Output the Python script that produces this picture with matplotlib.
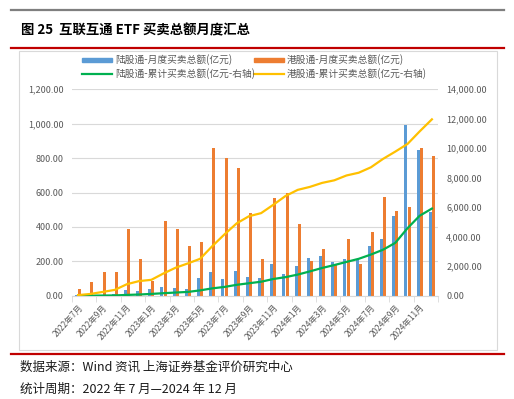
import matplotlib
matplotlib.use("Agg")
import matplotlib.pyplot as plt
import numpy as np
from matplotlib.lines import Line2D
from matplotlib.patches import Rectangle

plt.rcParams['font.family'] = ['Noto Sans CJK SC', 'DejaVu Sans']

months = ["2022年7月", "2022年8月", "2022年9月", "2022年10月", "2022年11月", "2022年12月",
          "2023年1月", "2023年2月", "2023年3月", "2023年4月", "2023年5月", "2023年6月",
          "2023年7月", "2023年8月", "2023年9月", "2023年10月", "2023年11月", "2023年12月",
          "2024年1月", "2024年2月", "2024年3月", "2024年4月", "2024年5月", "2024年6月",
          "2024年7月", "2024年8月", "2024年9月", "2024年10月", "2024年11月", "2024年12月"]

north_monthly = [2, 3, 6, 8, 34, 27, 41, 49, 45, 41, 105, 137, 97, 143, 107, 103, 185, 125,
                 174, 217, 232, 197, 215, 209, 289, 329, 465, 992, 847, 486]
south_monthly = [40, 78, 136, 139, 387, 212, 84, 434, 390, 291, 312, 858, 801, 745, 482, 211,
                 567, 595, 416, 203, 270, 176, 328, 186, 368, 573, 492, 517, 856, 815]
north_cum = [2, 5, 11, 19, 53, 80, 121, 170, 215, 256, 361, 498, 595, 738, 845, 948, 1133,
             1258, 1432, 1649, 1881, 2078, 2293, 2502, 2791, 3120, 3585, 4577, 5424, 5910]
south_cum = [40, 118, 254, 393, 780, 992, 1076, 1510, 1900, 2191, 2503, 3361, 4162, 4907,
             5389, 5600, 6167, 6762, 7178, 7381, 7651, 7827, 8155, 8341, 8709, 9282, 9774,
             10291, 11147, 11962]

legend_labels = ["陆股通-月度买卖总额(亿元)", "港股通-月度买卖总额(亿元)",
                 "陆股通-累计买卖总额(亿元-右轴)", "港股通-累计买卖总额(亿元-右轴)"]
left_ticks = [0, 200, 400, 600, 800, 1000, 1200]
right_ticks = [0, 2000, 4000, 6000, 8000, 10000, 12000, 14000]

C_BLUE, C_ORANGE, C_GREEN, C_YELLOW = "#5b9bd5", "#ed7d31", "#00b050", "#ffc000"

W, H = 514, 399
fig = plt.figure(figsize=(W / 100, H / 100), dpi=100)

def fx(px):
    return px / W

def fy(py):
    return 1 - py / H

# decorative lines
fig.add_artist(Line2D([fx(11), fx(504)], [fy(10), fy(10)], color="#7f7f7f", lw=1.6))
fig.add_artist(Line2D([fx(11), fx(504)], [fy(47.7), fy(47.7)], color="#c00000", lw=1.6))
fig.add_artist(Line2D([fx(11), fx(504)], [fy(353.7), fy(353.7)], color="#c00000", lw=1.6))
fig.add_artist(Rectangle((fx(19), fy(350)), fx(497) - fx(19), fy(51) - fy(350),
                         fill=False, edgecolor="#d9d9d9", lw=0.8))

fig.text(fx(21), fy(30), "图 25  互联互通 ETF 买卖总额月度汇总", fontsize=9.6,
         fontweight="bold", va="center", ha="left", color="#000000")
fig.text(fx(20), fy(367), "数据来源：Wind 资讯 上海证券基金评价研究中心", fontsize=9,
         va="center", ha="left", color="#1a1a1a")
fig.text(fx(20), fy(389), "统计周期：2022 年 7 月—2024 年 12 月", fontsize=9,
         va="center", ha="left", color="#1a1a1a")

ax = fig.add_axes([fx(72), fy(295.7), fx(438) - fx(72), fy(89.3) - fy(295.7)])
x = np.arange(len(months))
bw = 0.24
ax.bar(x - 0.135, north_monthly, width=bw, color=C_BLUE, zorder=2)
ax.bar(x + 0.135, south_monthly, width=bw, color=C_ORANGE, zorder=2)
ax.set_xlim(-0.5, len(months) - 0.5)
ax.set_ylim(0, 1200)
ax.set_yticks(left_ticks)
ax.set_yticklabels([f"{v:,.2f}" for v in left_ticks])
ax.grid(axis="y", color="#d9d9d9", lw=0.8, zorder=0)
ax.set_axisbelow(True)
for s in ["top", "right", "left"]:
    ax.spines[s].set_visible(False)
ax.spines["bottom"].set_color("#d9d9d9")
ax.tick_params(axis="y", length=0, labelsize=6.5, labelcolor="#595959", pad=6)
ax.set_xticks(x[::2])
ax.set_xticklabels(months[::2], rotation=48, ha="right", rotation_mode="anchor",
                   fontsize=6, color="#595959")
ax.set_xticks(np.arange(-0.5, len(months), 2), minor=True)
ax.tick_params(axis="x", which="major", length=0, pad=5)
ax.tick_params(axis="x", which="minor", length=4, color="#d9d9d9")

ax2 = ax.twinx()
ax2.plot(x, north_cum, color=C_GREEN, lw=1.6, zorder=3)
ax2.plot(x, south_cum, color=C_YELLOW, lw=1.6, zorder=3)
ax2.set_ylim(0, 14000)
ax2.set_yticks(right_ticks)
ax2.set_yticklabels([f"{v:,.2f}" for v in right_ticks])
for s in ["top", "right", "left", "bottom"]:
    ax2.spines[s].set_visible(False)
ax2.tick_params(axis="y", length=0, labelsize=6.5, labelcolor="#595959", pad=6)

# legend (two rows x two columns)
items = [("patch", C_BLUE, 82, 60, legend_labels[0]),
         ("patch", C_ORANGE, 254, 60, legend_labels[1]),
         ("line", C_GREEN, 82, 74, legend_labels[2]),
         ("line", C_YELLOW, 254, 74, legend_labels[3])]
for kind, col, px, py, lab in items:
    if kind == "patch":
        fig.add_artist(Rectangle((fx(px), fy(py + 2.3)), fx(30), 4.6 / H, color=col))
    else:
        fig.add_artist(Line2D([fx(px), fx(px + 30)], [fy(py), fy(py)], color=col, lw=1.6))
    fig.text(fx(px + 33), fy(py), lab, fontsize=7, va="center", ha="left", color="#595959")

fig.savefig("out.png", dpi=100)
